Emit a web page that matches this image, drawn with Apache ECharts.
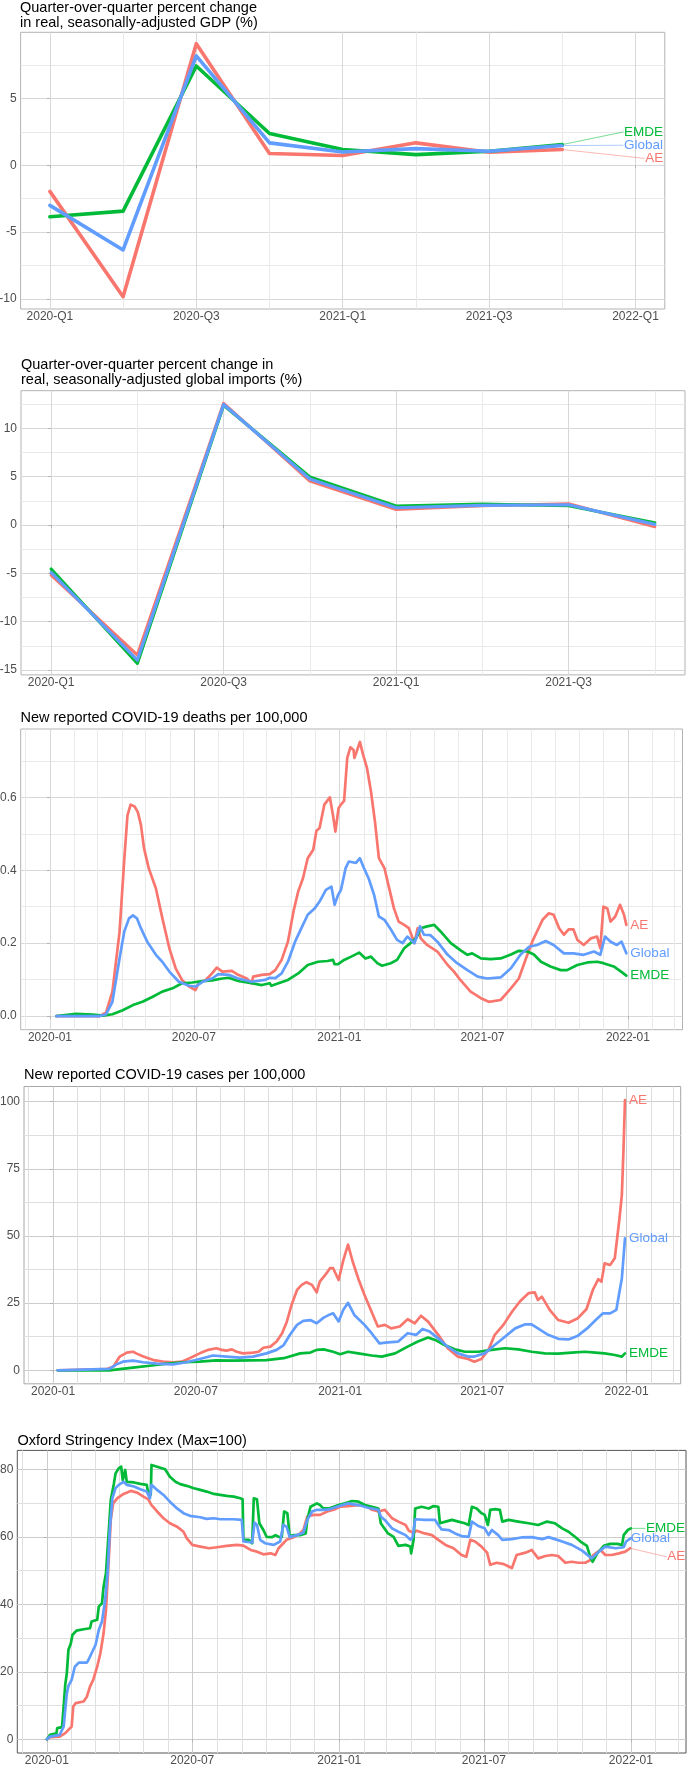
<!DOCTYPE html>
<html><head><meta charset="utf-8">
<script src="https://cdn.jsdelivr.net/npm/echarts@6/dist/echarts.min.js"></script>
<style>html,body{margin:0;padding:0;background:#fff}#c{width:688px;height:1765px}</style>
</head><body><div id="c"></div>
<script>
// ---------------- DATA ----------------
const quarterLabels = ['2020-Q1','2020-Q2','2020-Q3','2020-Q4','2021-Q1','2021-Q2','2021-Q3','2021-Q4','2022-Q1'];
const gdpXTickLabels = ['2020-Q1','2020-Q3','2021-Q1','2021-Q3','2022-Q1'];
const importsXTickLabels = ['2020-Q1','2020-Q3','2021-Q1','2021-Q3'];

const gdpAE     = [-1.95, -9.83, 9.1, 0.88, 0.73, 1.68, 0.98, 1.18];
const gdpGlobal = [-3.0, -6.33, 8.18, 1.68, 1.0, 1.25, 1.05, 1.48];
const gdpEMDE   = [-3.85, -3.43, 7.43, 2.38, 1.18, 0.8, 1.05, 1.55];

const importsAE     = [-5.17, -13.45, 12.59, 4.55, 1.62, 2.0, 2.2, -0.17];
const importsGlobal = [-4.9, -13.97, 12.48, 4.76, 1.79, 2.03, 2.1, 0.07];
const importsEMDE   = [-4.55, -14.3, 12.4, 4.97, 1.97, 2.17, 2.0, 0.24];

const gdpYTicks = [-10, -5, 0, 5];
const importsYTicks = [-15, -10, -5, 0, 5, 10];
const deathsYTicks = [0, 0.2, 0.4, 0.6];
const casesYTicks = [0, 25, 50, 75, 100];
const stringencyYTicks = [0, 20, 40, 60, 80];
const timeTickLabels = ['2020-01','2020-07','2021-01','2021-07','2022-01'];

const deathsAE = [['2020-01-09',0],['2020-03-04',0],['2020-03-12',0.01],['2020-03-20',0.067],['2020-03-29',0.23],['2020-04-04',0.43],['2020-04-08',0.55],['2020-04-12',0.58],['2020-04-17',0.575],['2020-04-21',0.56],['2020-04-25',0.525],['2020-04-29',0.46],['2020-05-05',0.405],['2020-05-14',0.35],['2020-05-22',0.27],['2020-05-31',0.186],['2020-06-08',0.131],['2020-06-16',0.099],['2020-06-25',0.081],['2020-07-03',0.071],['2020-07-07',0.09],['2020-07-16',0.099],['2020-07-24',0.117],['2020-07-30',0.133],['2020-08-06',0.122],['2020-08-18',0.124],['2020-08-26',0.113],['2020-09-06',0.103],['2020-09-12',0.09],['2020-09-14',0.108],['2020-09-25',0.113],['2020-10-05',0.115],['2020-10-12',0.126],['2020-10-20',0.154],['2020-10-28',0.204],['2020-11-04',0.287],['2020-11-10',0.342],['2020-11-16',0.378],['2020-11-22',0.433],['2020-11-29',0.456],['2020-12-03',0.508],['2020-12-07',0.516],['2020-12-13',0.58],['2020-12-20',0.6],['2020-12-24',0.55],['2020-12-27',0.506],['2020-12-31',0.57],['2021-01-03',0.58],['2021-01-07',0.59],['2021-01-11',0.708],['2021-01-15',0.737],['2021-01-19',0.73],['2021-01-20',0.708],['2021-01-23',0.726],['2021-01-27',0.752],['2021-01-31',0.717],['2021-02-05',0.68],['2021-02-10',0.616],['2021-02-15',0.534],['2021-02-20',0.433],['2021-02-27',0.406],['2021-03-05',0.351],['2021-03-11',0.296],['2021-03-17',0.259],['2021-03-24',0.25],['2021-03-30',0.241],['2021-04-06',0.2],['2021-04-10',0.241],['2021-04-14',0.213],['2021-04-22',0.195],['2021-05-05',0.177],['2021-05-18',0.14],['2021-05-26',0.122],['2021-06-03',0.099],['2021-06-16',0.067],['2021-06-29',0.049],['2021-07-09',0.039],['2021-07-24',0.044],['2021-08-06',0.076],['2021-08-16',0.103],['2021-08-25',0.158],['2021-09-02',0.204],['2021-09-08',0.232],['2021-09-15',0.264],['2021-09-23',0.282],['2021-09-29',0.278],['2021-10-06',0.241],['2021-10-12',0.223],['2021-10-18',0.238],['2021-10-24',0.238],['2021-10-29',0.209],['2021-11-06',0.195],['2021-11-15',0.213],['2021-11-23',0.218],['2021-11-27',0.186],['2021-12-01',0.3],['2021-12-06',0.295],['2021-12-10',0.259],['2021-12-16',0.273],['2021-12-22',0.305],['2021-12-27',0.278],['2021-12-30',0.25]];
const deathsGlobal = [['2020-01-09',0],['2020-03-04',0],['2020-03-12',0.005],['2020-03-20',0.039],['2020-03-29',0.158],['2020-04-04',0.232],['2020-04-10',0.268],['2020-04-15',0.276],['2020-04-20',0.268],['2020-04-25',0.241],['2020-05-03',0.204],['2020-05-14',0.168],['2020-05-22',0.149],['2020-05-31',0.122],['2020-06-12',0.094],['2020-06-25',0.083],['2020-07-03',0.081],['2020-07-12',0.094],['2020-07-24',0.103],['2020-08-01',0.115],['2020-08-14',0.113],['2020-08-26',0.103],['2020-09-12',0.094],['2020-09-29',0.099],['2020-10-05',0.105],['2020-10-12',0.104],['2020-10-20',0.117],['2020-10-28',0.149],['2020-11-06',0.204],['2020-11-14',0.241],['2020-11-22',0.278],['2020-12-01',0.296],['2020-12-07',0.314],['2020-12-15',0.346],['2020-12-22',0.355],['2020-12-26',0.305],['2020-12-30',0.33],['2021-01-03',0.346],['2021-01-09',0.406],['2021-01-13',0.424],['2021-01-22',0.42],['2021-01-27',0.433],['2021-02-01',0.406],['2021-02-07',0.378],['2021-02-14',0.332],['2021-02-20',0.273],['2021-02-27',0.264],['2021-03-07',0.238],['2021-03-15',0.209],['2021-03-22',0.2],['2021-03-28',0.218],['2021-04-06',0.2],['2021-04-13',0.246],['2021-04-18',0.223],['2021-04-26',0.222],['2021-05-05',0.204],['2021-05-18',0.168],['2021-05-30',0.145],['2021-06-12',0.126],['2021-06-25',0.108],['2021-07-07',0.103],['2021-07-24',0.106],['2021-08-06',0.131],['2021-08-18',0.168],['2021-08-29',0.19],['2021-09-08',0.195],['2021-09-19',0.206],['2021-09-29',0.195],['2021-10-12',0.172],['2021-10-24',0.172],['2021-11-06',0.168],['2021-11-19',0.177],['2021-11-27',0.168],['2021-12-03',0.218],['2021-12-10',0.204],['2021-12-18',0.195],['2021-12-24',0.204],['2021-12-30',0.172]];
const deathsEMDE = [['2020-01-09',0],['2020-02-03',0.006],['2020-02-24',0.004],['2020-03-08',0.001],['2020-03-20',0.005],['2020-04-02',0.016],['2020-04-15',0.03],['2020-04-27',0.039],['2020-05-10',0.053],['2020-05-22',0.067],['2020-06-04',0.076],['2020-06-16',0.09],['2020-06-29',0.092],['2020-07-12',0.096],['2020-07-24',0.098],['2020-08-06',0.103],['2020-08-14',0.105],['2020-08-26',0.096],['2020-09-12',0.09],['2020-09-25',0.085],['2020-10-05',0.09],['2020-10-07',0.083],['2020-10-16',0.09],['2020-10-28',0.099],['2020-11-10',0.117],['2020-11-22',0.14],['2020-12-05',0.149],['2020-12-17',0.151],['2020-12-24',0.154],['2020-12-26',0.142],['2020-12-30',0.142],['2021-01-07',0.154],['2021-01-16',0.163],['2021-01-26',0.174],['2021-02-03',0.158],['2021-02-10',0.163],['2021-02-18',0.145],['2021-02-24',0.138],['2021-03-07',0.145],['2021-03-15',0.154],['2021-03-24',0.186],['2021-04-01',0.2],['2021-04-08',0.213],['2021-04-14',0.241],['2021-04-22',0.246],['2021-05-01',0.25],['2021-05-09',0.232],['2021-05-22',0.2],['2021-06-03',0.181],['2021-06-12',0.168],['2021-06-18',0.172],['2021-06-29',0.158],['2021-07-11',0.156],['2021-07-24',0.158],['2021-08-06',0.169],['2021-08-16',0.179],['2021-08-27',0.177],['2021-09-04',0.169],['2021-09-13',0.149],['2021-09-25',0.136],['2021-10-08',0.126],['2021-10-16',0.126],['2021-10-29',0.14],['2021-11-11',0.147],['2021-11-23',0.149],['2021-12-01',0.145],['2021-12-14',0.136],['2021-12-22',0.124],['2021-12-30',0.111]];

const casesAE = [['2020-01-07',0],['2020-03-09',0.4],['2020-03-18',1.4],['2020-03-26',5.1],['2020-04-04',6.6],['2020-04-12',6.9],['2020-04-16',6.3],['2020-04-25',5.1],['2020-05-08',3.8],['2020-05-20',3.2],['2020-06-02',3.0],['2020-06-13',3.2],['2020-06-23',4.5],['2020-07-06',6.3],['2020-07-17',7.6],['2020-07-27',8.2],['2020-08-03',7.6],['2020-08-09',7.3],['2020-08-16',7.8],['2020-08-22',6.9],['2020-08-30',6.3],['2020-09-12',6.6],['2020-09-19',6.9],['2020-09-25',8.4],['2020-10-04',8.8],['2020-10-12',10.7],['2020-10-19',13.8],['2020-10-25',18.1],['2020-10-31',24.3],['2020-11-07',29.9],['2020-11-13',31.8],['2020-11-19',32.8],['2020-11-26',31.8],['2020-12-02',29.0],['2020-12-06',33.0],['2020-12-13',35.5],['2020-12-19',38],['2020-12-23',38],['2020-12-30',33.6],['2021-01-05',41],['2021-01-11',46.8],['2021-01-17',40.4],['2021-01-24',34.2],['2021-02-01',28],['2021-02-10',21.8],['2021-02-18',16.3],['2021-02-27',16.9],['2021-03-07',15.6],['2021-03-18',16.3],['2021-03-28',19],['2021-04-06',17.5],['2021-04-14',20.3],['2021-04-23',18.1],['2021-05-06',13.2],['2021-05-18',8.2],['2021-05-31',5.1],['2021-06-13',4.2],['2021-06-21',3.2],['2021-06-30',4.2],['2021-07-09',7.6],['2021-07-17',13.2],['2021-07-28',16.9],['2021-08-08',21.8],['2021-08-18',25.6],['2021-08-29',28.7],['2021-09-06',29],['2021-09-10',26.2],['2021-09-15',27.4],['2021-09-25',22.5],['2021-10-06',18.7],['2021-10-19',17.7],['2021-10-31',19.4],['2021-11-11',22.8],['2021-11-19',29.9],['2021-11-26',33.9],['2021-11-30',33],['2021-12-04',39.8],['2021-12-11',39.2],['2021-12-17',41.7],['2021-12-23',56.6],['2021-12-26',65.3],['2021-12-28',81.4],['2021-12-30',100.6]];
const casesGlobal = [['2020-01-07',0],['2020-03-13',0.5],['2020-03-22',2.2],['2020-03-30',3.2],['2020-04-12',3.6],['2020-04-25',3.0],['2020-05-12',2.5],['2020-06-02',2.2],['2020-06-19',3.0],['2020-07-06',4.2],['2020-07-23',5.5],['2020-08-09',5.1],['2020-08-26',4.7],['2020-09-12',5.1],['2020-09-29',6.3],['2020-10-12',7.6],['2020-10-21',9.4],['2020-10-29',13.2],['2020-11-07',16.9],['2020-11-15',18.4],['2020-11-24',18.7],['2020-12-02',17.5],['2020-12-11',19.6],['2020-12-19',20.8],['2020-12-23',21.2],['2020-12-30',18.2],['2021-01-05',22.5],['2021-01-11',25.1],['2021-01-19',20.6],['2021-02-01',16.9],['2021-02-10',13.8],['2021-02-20',10],['2021-03-03',10.4],['2021-03-16',10.7],['2021-03-28',13.8],['2021-04-08',13.2],['2021-04-16',15.4],['2021-04-25',14.4],['2021-05-06',11.9],['2021-05-18',8.8],['2021-05-31',6.3],['2021-06-13',5.1],['2021-06-21',5.1],['2021-07-04',6.3],['2021-07-17',9.4],['2021-07-30',12.5],['2021-08-12',15.6],['2021-08-25',17.1],['2021-09-02',17.1],['2021-09-10',15.6],['2021-09-23',13.2],['2021-10-06',11.7],['2021-10-19',11.5],['2021-10-31',12.9],['2021-11-13',15.9],['2021-11-24',19.1],['2021-12-02',21.2],['2021-12-11',21.2],['2021-12-19',22.5],['2021-12-23',29.3],['2021-12-26',34.2],['2021-12-28',41.7],['2021-12-30',49.1]];
const casesEMDE = [['2020-01-07',0],['2020-03-13',0],['2020-03-26',0.4],['2020-04-12',1.0],['2020-05-03',1.7],['2020-05-25',2.5],['2020-06-15',3.0],['2020-07-06',3.2],['2020-07-27',3.7],['2020-08-18',3.6],['2020-09-08',3.7],['2020-09-29',3.8],['2020-10-21',4.5],['2020-11-11',6.3],['2020-11-24',6.6],['2020-12-02',7.6],['2020-12-11',7.8],['2020-12-23',6.9],['2021-01-01',6.0],['2021-01-11',6.9],['2021-01-24',6.3],['2021-02-10',5.5],['2021-02-23',5.1],['2021-03-12',6.3],['2021-03-28',8.8],['2021-04-10',10.7],['2021-04-23',12.2],['2021-05-02',11.3],['2021-05-14',9.4],['2021-05-27',7.8],['2021-06-09',6.9],['2021-06-26',6.9],['2021-07-13',7.6],['2021-07-30',8.2],['2021-08-16',7.8],['2021-09-02',6.9],['2021-09-19',6.3],['2021-10-06',6.2],['2021-10-23',6.6],['2021-11-09',6.9],['2021-11-22',6.6],['2021-12-04',6.3],['2021-12-17',5.7],['2021-12-26',5.1],['2021-12-30',6.3]];

const stringencyAE = [['2020-01-01',0],['2020-01-05',0.6],['2020-01-17',0.8],['2020-01-24',1.8],['2020-01-28',2.8],['2020-02-01',3.75],['2020-02-03',9.7],['2020-02-06',10.7],['2020-02-16',11.2],['2020-02-20',12.6],['2020-02-24',15.6],['2020-02-28',17.6],['2020-03-04',21.5],['2020-03-08',25.5],['2020-03-12',31.4],['2020-03-15',38.3],['2020-03-18',51.2],['2020-03-21',65],['2020-03-24',69.9],['2020-03-29',71.4],['2020-04-06',72.7],['2020-04-15',73.6],['2020-04-23',73.1],['2020-05-01',71.9],['2020-05-07',71.1],['2020-05-11',69.4],['2020-05-18',67.5],['2020-05-26',65.5],['2020-06-03',64],['2020-06-12',63],['2020-06-20',61.5],['2020-06-24',59.6],['2020-07-01',57.6],['2020-07-11',57.1],['2020-07-22',56.6],['2020-08-01',56.9],['2020-08-13',57.3],['2020-08-26',57.6],['2020-09-03',57.4],['2020-09-12',56.1],['2020-09-20',55.6],['2020-09-28',54.8],['2020-10-07',55.1],['2020-10-13',54.6],['2020-10-17',56.6],['2020-10-23',58.1],['2020-10-27',59.1],['2020-11-05',59.9],['2020-11-13',61],['2020-11-17',62],['2020-11-22',66],['2020-11-30',66.5],['2020-12-08',66.5],['2020-12-17',67.5],['2020-12-25',68],['2021-01-02',68.9],['2021-01-12',69.1],['2021-01-25',69.4],['2021-02-02',69.4],['2021-02-11',68],['2021-02-19',67.5],['2021-02-27',68],['2021-03-08',65.5],['2021-03-16',64.5],['2021-03-25',63.5],['2021-03-29',61.8],['2021-04-04',61.2],['2021-04-08',61.8],['2021-04-18',61],['2021-04-27',60.5],['2021-05-05',59.1],['2021-05-14',57.6],['2021-05-24',56.6],['2021-06-03',54.6],['2021-06-09',54.1],['2021-06-14',59.1],['2021-06-20',58.6],['2021-06-28',57.1],['2021-07-05',55.3],['2021-07-09',51.7],['2021-07-17',52.3],['2021-07-26',51.9],['2021-08-01',51.2],['2021-08-05',50.7],['2021-08-11',54.6],['2021-08-22',55.3],['2021-08-30',56.1],['2021-09-07',53.6],['2021-09-16',54.3],['2021-09-24',54.6],['2021-10-02',54.3],['2021-10-11',52.3],['2021-10-19',52.6],['2021-10-27',52.3],['2021-11-05',52.3],['2021-11-11',53.1],['2021-11-15',54.6],['2021-11-24',56.1],['2021-11-30',54.6],['2021-12-08',54.6],['2021-12-17',55.1],['2021-12-25',55.6],['2021-12-31',56.6]];
const stringencyGlobal = [['2020-01-01',0],['2020-01-05',0.8],['2020-01-17',1.3],['2020-01-22',3.75],['2020-01-24',8.7],['2020-01-26',13.6],['2020-01-28',15.8],['2020-02-01',17.6],['2020-02-05',21.5],['2020-02-10',22.7],['2020-02-20',22.7],['2020-02-22',23.5],['2020-02-26',25.5],['2020-03-02',28],['2020-03-06',32.4],['2020-03-10',34.9],['2020-03-14',41.3],['2020-03-17',49.2],['2020-03-20',63],['2020-03-23',71.4],['2020-03-27',74.4],['2020-03-31',75.4],['2020-04-06',76.3],['2020-04-10',75.4],['2020-04-19',74.9],['2020-04-27',74.1],['2020-05-05',73.4],['2020-05-09',71.4],['2020-05-11',75.4],['2020-05-18',73.9],['2020-05-26',72.4],['2020-06-03',70.4],['2020-06-12',68.4],['2020-06-20',67],['2020-06-28',66.2],['2020-07-11',65.8],['2020-07-19',65.3],['2020-07-28',65.5],['2020-08-05',65.2],['2020-08-22',65.2],['2020-09-01',65],['2020-09-03',58.6],['2020-09-14',58.3],['2020-09-17',64.2],['2020-09-20',63.5],['2020-09-24',59.1],['2020-09-30',58.1],['2020-10-11',57.6],['2020-10-19',58.6],['2020-10-23',63.5],['2020-10-27',63],['2020-10-31',59.9],['2020-11-09',60.5],['2020-11-17',61.2],['2020-11-22',65],['2020-11-28',67.5],['2020-12-04',68],['2020-12-12',68],['2020-12-19',68.1],['2020-12-29',68.9],['2021-01-12',69.9],['2021-01-25',69.4],['2021-02-06',68.6],['2021-02-19',68],['2021-02-22',66],['2021-02-27',65],['2021-03-08',62.5],['2021-03-16',61.5],['2021-03-25',60.5],['2021-03-31',59.1],['2021-04-03',60],['2021-04-06',65.2],['2021-04-18',65],['2021-05-01',65],['2021-05-05',63.5],['2021-05-09',62.2],['2021-05-18',62],['2021-05-26',61],['2021-06-03',60.2],['2021-06-12',60],['2021-06-16',64.5],['2021-06-24',63.2],['2021-07-02',62.5],['2021-07-07',60.5],['2021-07-11',62],['2021-07-19',60.5],['2021-07-24',59.1],['2021-08-05',59.3],['2021-08-17',59.8],['2021-08-30',59.9],['2021-09-12',59.3],['2021-09-20',59.9],['2021-09-28',59.3],['2021-10-07',58.6],['2021-10-19',57.6],['2021-11-01',55.9],['2021-11-13',53.6],['2021-11-22',55.6],['2021-11-30',57.1],['2021-12-13',56.6],['2021-12-23',56.9],['2021-12-26',58.6],['2022-01-01',59.6]];
const stringencyEMDE = [['2020-01-01',0],['2020-01-05',1.3],['2020-01-13',1.8],['2020-01-14',3.3],['2020-01-20',3.6],['2020-01-22',9.7],['2020-01-24',16.1],['2020-01-26',19.6],['2020-01-28',26.5],['2020-01-31',28.4],['2020-02-02',30.9],['2020-02-07',32.2],['2020-02-16',32.6],['2020-02-24',32.9],['2020-02-26',34.9],['2020-03-04',35.4],['2020-03-06',39.3],['2020-03-10',40.3],['2020-03-12',45.2],['2020-03-15',49.2],['2020-03-18',60],['2020-03-21',70.9],['2020-03-25',75.9],['2020-03-27',78.8],['2020-03-31',80.3],['2020-04-03',80.8],['2020-04-05',76.8],['2020-04-08',79.8],['2020-04-10',76.3],['2020-04-19',76.1],['2020-04-27',75.7],['2020-05-05',75.4],['2020-05-07',72.7],['2020-05-10',72.5],['2020-05-11',81.3],['2020-05-20',80.6],['2020-05-28',80],['2020-06-03',77.8],['2020-06-10',76.3],['2020-06-16',75.6],['2020-06-24',75.1],['2020-07-03',74.4],['2020-07-11',73.9],['2020-07-19',73.4],['2020-07-28',72.7],['2020-08-05',72.4],['2020-08-13',72.1],['2020-08-22',71.9],['2020-08-30',71.4],['2020-09-02',71.1],['2020-09-03',59.1],['2020-09-10',59.1],['2020-09-14',58.1],['2020-09-16',71.4],['2020-09-20',71.1],['2020-09-23',64],['2020-09-28',62],['2020-10-02',60],['2020-10-09',59.9],['2020-10-13',60.5],['2020-10-17',60],['2020-10-21',59.9],['2020-10-24',67.5],['2020-10-28',67],['2020-10-31',60.2],['2020-11-05',60.5],['2020-11-13',60.5],['2020-11-20',61],['2020-11-22',65],['2020-11-26',68.9],['2020-12-04',69.9],['2020-12-08',69.4],['2020-12-12',68.4],['2020-12-19',68.4],['2020-12-25',68.9],['2020-12-31',69.4],['2021-01-08',69.9],['2021-01-17',70.6],['2021-01-25',70.4],['2021-02-02',69.4],['2021-02-11',68.9],['2021-02-19',68.4],['2021-02-22',64],['2021-02-25',63],['2021-03-03',61],['2021-03-10',60],['2021-03-16',57.3],['2021-03-25',57.6],['2021-03-31',57.1],['2021-04-01',55.1],['2021-04-04',59.1],['2021-04-06',68.4],['2021-04-14',68.9],['2021-04-23',68.4],['2021-04-29',69.1],['2021-05-05',68.9],['2021-05-07',64],['2021-05-14',64.5],['2021-05-22',65],['2021-05-30',64.5],['2021-06-07',64],['2021-06-12',63.5],['2021-06-16',68.9],['2021-06-22',68.4],['2021-06-28',67],['2021-07-02',66.5],['2021-07-06',63.5],['2021-07-09',68],['2021-07-15',68.2],['2021-07-21',68],['2021-07-24',64.5],['2021-08-01',65],['2021-08-13',64.5],['2021-08-26',64],['2021-09-07',63.5],['2021-09-18',64.5],['2021-09-20',65],['2021-09-28',64],['2021-10-07',62.5],['2021-10-15',61.5],['2021-10-23',60],['2021-10-30',58.6],['2021-11-07',57.3],['2021-11-11',54.1],['2021-11-14',52.6],['2021-11-20',55.1],['2021-11-28',57.3],['2021-12-06',57.9],['2021-12-15',57.9],['2021-12-21',57.6],['2021-12-23',60.5],['2021-12-28',62],['2022-01-01',62.5]];

// ---------------- HELPERS ----------------
const C_AE = '#F8766D', C_GL = '#619CFF', C_EM = '#00BA38';
const FONT = '"Liberation Sans", Arial, Helvetica, sans-serif';
const AXIS_TXT = '#4D4D4D';

function dayNum(s) {
  const p = s.split('-').map(Number);
  return (Date.UTC(p[0], p[1] - 1, p[2] || 1) - Date.UTC(2020, 0, 1)) / 864e5;
}
const timeTickDays = timeTickLabels.map(dayNum);
const monthDays = [];
for (let y = 2019; y <= 2022; y++) for (let m = 1; m <= 12; m++) {
  const d = dayNum(y + '-' + String(m).padStart(2, '0') + '-01');
  if (d > -37 && d < 800 && timeTickDays.indexOf(d) < 0) monthDays.push(d);
}

const grids = [
  {left: 20.6, top: 32.3, width: 644.2, height: 276.7, border: '#b3b3b3'},
  {left: 21, top: 390.7, width: 664, height: 284.2, border: '#b3b3b3'},
  {left: 20.7, top: 729, width: 661.8, height: 300.7, border: '#b3b3b3'},
  {left: 24, top: 1086.5, width: 656.7, height: 297.3, border: '#a6a6a6'},
  {left: 17.3, top: 1450.4, width: 668.7, height: 302.6, border: '#555555'}
];

const xAxes = [], yAxes = [];
function addAxes(gi, xr, xMaj, xMin, xFmt, yr, yMaj, yMin, yFmt, gridCol, minorColIn) {
  const gc = gridCol || '#d8d8d8';
  const minorCol = minorColIn || '#e9e9e9';
  xAxes.push({gridIndex: gi, type: 'value', position: 'bottom', min: xr[0], max: xr[1],
    axisLine: {show: false},
    axisTick: {show: true, length: 3, customValues: xMaj, lineStyle: {color: '#b3b3b3', width: 1}},
    axisLabel: {show: true, customValues: xMaj, formatter: xFmt, color: AXIS_TXT, fontSize: 12, fontFamily: FONT, margin: 1.5, hideOverlap: false},
    splitLine: {show: true, lineStyle: {color: gc, width: 1}}});
  xAxes.push({gridIndex: gi, type: 'value', position: 'top', min: xr[0], max: xr[1],
    axisLine: {show: false}, axisTick: {show: false, customValues: xMin}, axisLabel: {show: false},
    splitLine: {show: true, lineStyle: {color: minorCol, width: 1}}});
  yAxes.push({gridIndex: gi, type: 'value', position: 'left', min: yr[0], max: yr[1],
    axisLine: {show: false},
    axisTick: {show: true, length: 3, customValues: yMaj, lineStyle: {color: '#b3b3b3', width: 1}},
    axisLabel: {show: true, customValues: yMaj, formatter: yFmt, color: AXIS_TXT, fontSize: 12, fontFamily: FONT, margin: 4, hideOverlap: false},
    splitLine: {show: true, lineStyle: {color: gc, width: 1}}});
  yAxes.push({gridIndex: gi, type: 'value', position: 'right', min: yr[0], max: yr[1],
    axisLine: {show: false}, axisTick: {show: false, customValues: yMin}, axisLabel: {show: false},
    splitLine: {show: true, lineStyle: {color: minorCol, width: 1}}});
}

const qIdx = l => quarterLabels.indexOf(l);
const qFmt = v => quarterLabels[Math.round(v)];
const tFmt = v => timeTickLabels[timeTickDays.indexOf(Math.round(v))] || '';
const intFmt = v => String(v);

addAxes(0, [-0.4, 8.4], gdpXTickLabels.map(qIdx), [1, 3, 5, 7], qFmt,
  [-10.75, 9.95], gdpYTicks, [-7.5, -2.5, 2.5, 7.5], intFmt);
addAxes(1, [-0.35, 7.35], importsXTickLabels.map(qIdx), [1, 3, 5, 7], qFmt,
  [-15.5, 13.9], importsYTicks, [-12.5, -7.5, -2.5, 2.5, 7.5, 12.5], intFmt);
addAxes(2, [-37, 800], timeTickDays, monthDays, tFmt,
  [-0.0375, 0.7875], deathsYTicks, [0.1, 0.3, 0.5, 0.7], v => v.toFixed(1));
addAxes(3, [-37, 800], timeTickDays, monthDays, tFmt,
  [-5.03, 105.63], casesYTicks, [12.5, 37.5, 62.5, 87.5], intFmt, '#cccccc', '#dedede');
addAxes(4, [-37, 800], timeTickDays, monthDays, tFmt,
  [-4.07, 85.6], stringencyYTicks, [10, 30, 50, 70], intFmt, '#cccccc', '#e0e0e0');

const series = [];
function addLine(gi, name, data, color, width, endLabel) {
  const s = {type: 'line', name: name, xAxisIndex: 2 * gi, yAxisIndex: 2 * gi, data: data,
    showSymbol: false, symbol: 'none', silent: true, z: 3,
    lineStyle: {color: color, width: width, cap: 'round', join: 'round'}};
  if (endLabel) s.endLabel = Object.assign({show: true, formatter: name, color: color, fontSize: 13.5, fontFamily: FONT}, endLabel);
  series.push(s);
  return s;
}
const qData = arr => arr.map((v, i) => [i, v]);
const tData = arr => arr.map(p => [dayNum(p[0]), p[1]]);
function last(arr) { return arr[arr.length - 1]; }

// Panel 1 (GDP)
addLine(0, 'AE', qData(gdpAE), C_AE, 3.6);
addLine(0, 'EMDE', qData(gdpEMDE), C_EM, 3.6);
addLine(0, 'Global', qData(gdpGlobal), C_GL, 3.6);
// label connectors (anchors in data space)
[addLine(0, 'EMDE', [[7, last(gdpEMDE)], [7.83, 2.49]], C_EM, 0.7, {distance: 1}),
 addLine(0, 'Global', [[7, last(gdpGlobal)], [7.83, 1.5]], C_GL, 0.7, {distance: 1}),
 addLine(0, 'AE', [[7, last(gdpAE)], [8.12, 0.52]], C_AE, 0.7, {distance: 1})
].forEach(s => { s.lineStyle.opacity = 0.75; });

// Panel 2 (imports)
addLine(1, 'AE', qData(importsAE), C_AE, 3.2);
addLine(1, 'EMDE', qData(importsEMDE), C_EM, 3.2);
addLine(1, 'Global', qData(importsGlobal), C_GL, 3.2);

// Panel 3 (deaths)
addLine(2, 'AE', tData(deathsAE), C_AE, 2.7, {distance: 4});
addLine(2, 'EMDE', tData(deathsEMDE), C_EM, 2.7, {distance: 4});
addLine(2, 'Global', tData(deathsGlobal), C_GL, 2.7, {distance: 4});

// Panel 4 (cases)
addLine(3, 'AE', tData(casesAE), C_AE, 2.7, {distance: 4});
addLine(3, 'EMDE', tData(casesEMDE), C_EM, 2.7, {distance: 4});
addLine(3, 'Global', tData(casesGlobal), C_GL, 2.7, {distance: 4});

// Panel 5 (stringency)
addLine(4, 'AE', tData(stringencyAE), C_AE, 2.7);
addLine(4, 'EMDE', tData(stringencyEMDE), C_EM, 2.7);
addLine(4, 'Global', tData(stringencyGlobal), C_GL, 2.7, {distance: 0});
[addLine(4, 'EMDE', [[dayNum(last(stringencyEMDE)[0]), last(stringencyEMDE)[1]], [748.7, 62.5]], C_EM, 0.7, {distance: 1}),
 addLine(4, 'AE', [[dayNum(last(stringencyAE)[0]), last(stringencyAE)[1]], [775.4, 54.1]], C_AE, 0.7, {distance: 1})
].forEach(s => { s.lineStyle.opacity = 0.75; });

const titleStyle = {fontSize: 14.5, fontWeight: 'normal', color: '#000', fontFamily: FONT, lineHeight: 15.5};
const titles = [
  {text: 'Quarter-over-quarter percent change\nin real, seasonally-adjusted GDP (%)', left: 20, top: 0},
  {text: 'Quarter-over-quarter percent change in\nreal, seasonally-adjusted global imports (%)', left: 21, top: 357.2},
  {text: 'New reported COVID-19 deaths per 100,000', left: 20.5, top: 710.5},
  {text: 'New reported COVID-19 cases per 100,000', left: 24, top: 1067.2},
  {text: 'Oxford Stringency Index (Max=100)', left: 17.5, top: 1433.7}
].map(t => Object.assign({padding: 0, textStyle: titleStyle}, t));

const chart = echarts.init(document.getElementById('c'), null, {renderer: 'canvas', width: 688, height: 1765});
chart.setOption({
  animation: false,
  backgroundColor: '#ffffff',
  title: titles,
  grid: grids.map(g => ({left: g.left, top: g.top, width: g.width, height: g.height, show: true,
    borderColor: g.border, borderWidth: 1, backgroundColor: 'transparent', containLabel: false, outerBoundsMode: 'none'})),
  xAxis: xAxes,
  yAxis: yAxes,
  series: series
});
</script>
</body></html>
